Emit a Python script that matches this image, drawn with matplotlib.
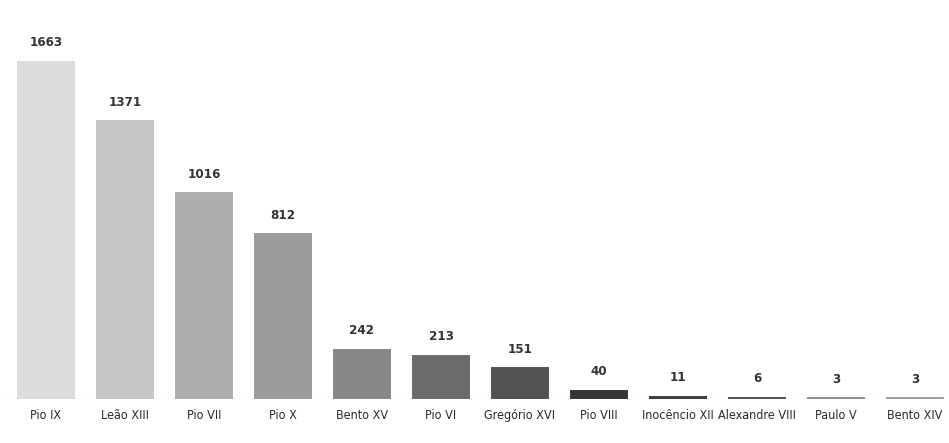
import matplotlib
matplotlib.use("Agg")
import matplotlib.pyplot as plt

# Papas e número de registros
papas = ["Pio IX", "Leão XIII", "Pio VII", "Pio X", "Bento XV", "Pio VI",
         "Gregório XVI", "Pio VIII", "Inocêncio XII", "Alexandre VIII",
         "Paulo V", "Bento XIV"]
valores = [1663, 1371, 1016, 812, 242, 213, 151, 40, 11, 6, 3, 3]
cores = ["#dcdcdc", "#c6c6c6", "#aeaeae", "#9b9b9b", "#878787", "#6b6b6b",
         "#525252", "#363636", "#3e3e3e", "#555555", "#8e8e8e", "#9e9e9e"]

plt.rcParams["font.family"] = ["DejaVu Sans"]
plt.rcParams["font.stretch"] = "condensed"

fig = plt.figure(figsize=(9.49, 4.43), dpi=100)
ax = fig.add_axes([0, 44 / 443, 1, 399 / 443])

x = range(len(papas))
ax.bar(x, valores, width=0.72, color=cores, edgecolor=cores, linewidth=1.4, zorder=2)

for xi, v in zip(x, valores):
    ax.annotate(str(v), (xi, v), xytext=(0, 9), textcoords="offset points",
                ha="center", va="bottom", fontsize=9.5, fontweight="bold", color="#333333")

ax.axhline(0, color="#e6e6e6", linewidth=1, xmin=0.005, xmax=0.995, zorder=1)

ax.set_xlim(-46 / 79, (949 - 46) / 79)
ax.set_ylim(0, 1968)
ax.set_xticks(list(x))
ax.set_xticklabels(papas, fontsize=9, color="#2a2a2a")
ax.tick_params(axis="x", length=0, pad=7)
ax.set_yticks([])
for s in ax.spines.values():
    s.set_visible(False)

fig.savefig("out.png", dpi=100, facecolor="white")
